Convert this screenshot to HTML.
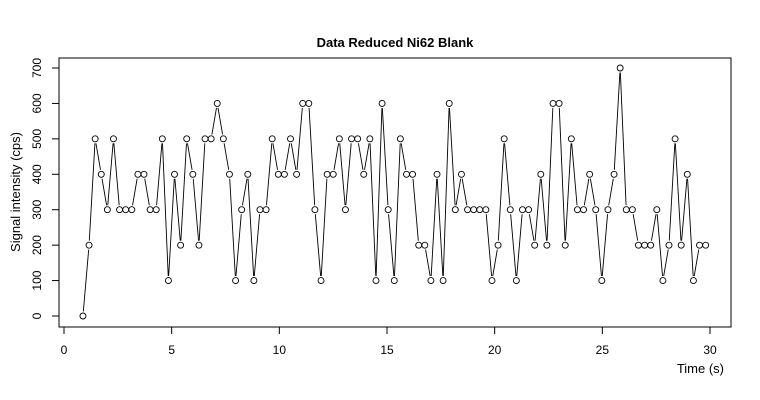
<!DOCTYPE html>
<html><head><meta charset="utf-8"><style>body{margin:0;background:#fff}svg{display:block;font-family:"Liberation Sans",Arial,sans-serif}</style></head>
<body>
<svg id="chart" width="760" height="400"></svg>
<script>
const t0 = 0.88;
const dt = 0.2835;
const signal = [0,200,500,400,300,500,300,300,300,400,400,300,300,500,100,400,200,500,400,200,500,500,600,500,400,100,300,400,100,300,300,500,400,400,500,400,600,600,300,100,400,400,500,300,500,500,400,500,100,600,300,100,500,400,400,200,200,100,400,100,600,300,400,300,300,300,300,100,200,500,300,100,300,300,200,400,200,600,600,200,500,300,300,400,300,100,300,400,700,300,300,200,200,200,300,100,200,500,200,400,100,200,200];
const xTicks = [0,5,10,15,20,25,30];
const yTicks = [0,100,200,300,400,500,600,700];

const NS = 'http://www.w3.org/2000/svg';
const svg = document.getElementById('chart');
const xs = v => 64 + v * (710 - 64) / 30;
const ys = v => 316 - v * (316 - 68) / 700;
function mk(tag, attrs, parent) {
  const e = document.createElementNS(NS, tag);
  for (const k in attrs) e.setAttribute(k, attrs[k]);
  (parent || svg).appendChild(e);
  return e;
}
const box = mk('rect', {x:59, y:58, width:672, height:269, fill:'none', stroke:'#000', 'stroke-width':1});



const title = mk('text', {x:395, y:47, 'text-anchor':'middle', 'font-size':13, 'font-weight':'bold'});
title.textContent = 'Data Reduced Ni62 Blank';



const xl = mk('text', {x:724, y:373, 'text-anchor':'end', 'font-size':13});
xl.textContent = 'Time (s)';



const yl = mk('text', {x:20, y:192, 'text-anchor':'middle', 'font-size':13, transform:'rotate(-90 20 192)'});
yl.textContent = 'Signal intensity (cps)';



const xa = mk('g', {});


mk('line', {x1:xs(xTicks[0]), x2:xs(xTicks[xTicks.length-1]), y1:327, y2:327, stroke:'#000'}, xa);
xTicks.forEach(v => {
  mk('line', {x1:xs(v), x2:xs(v), y1:327, y2:334, stroke:'#000'}, xa);
  const t = mk('text', {x:xs(v), y:354, 'text-anchor':'middle', 'font-size':12}, xa);
  t.textContent = v;
  
  
});
const ya = mk('g', {});


mk('line', {x1:59, x2:59, y1:ys(yTicks[0]), y2:ys(yTicks[yTicks.length-1]), stroke:'#000'}, ya);
yTicks.forEach(v => {
  mk('line', {x1:52, x2:59, y1:ys(v), y2:ys(v), stroke:'#000'}, ya);
  const t = mk('text', {x:41, y:ys(v), 'text-anchor':'middle', 'font-size':12, transform:`rotate(-90 41 ${ys(v)})`}, ya);
  t.textContent = v;
  
  
});

const series = mk('g', {});


const pts = signal.map((v, i) => [xs(t0 + i * dt), ys(v)]);
const r = 3, gap = 4.5;
for (let i = 0; i < pts.length - 1; i++) {
  const [x1, y1] = pts[i], [x2, y2] = pts[i+1];
  const d = Math.hypot(x2 - x1, y2 - y1);
  if (d <= 2 * gap) continue;
  const ux = (x2 - x1) / d, uy = (y2 - y1) / d;
  const seg = mk('line', {x1:x1+ux*gap, y1:y1+uy*gap, x2:x2-ux*gap, y2:y2-uy*gap, stroke:'#000', 'stroke-width':0.9}, series);
  
  
}
pts.forEach(p => {
  const c = mk('circle', {cx:p[0], cy:p[1], r:r, fill:'none', stroke:'#000', 'stroke-width':0.9}, series);
  
  
});
</script>
</body></html>
